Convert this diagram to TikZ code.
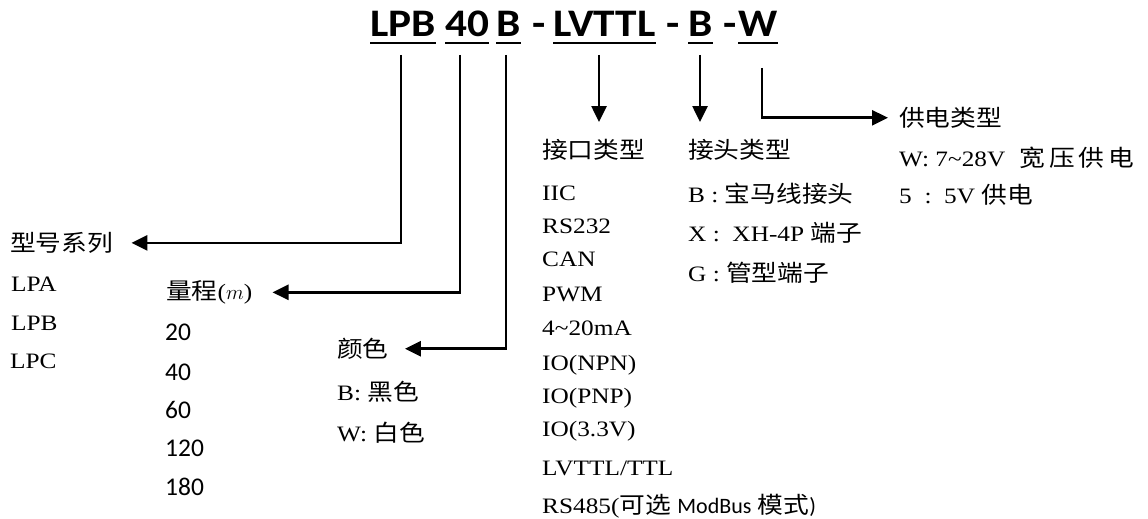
\documentclass[tikz,border=0pt]{standalone}
\usepackage{fontspec}
\setmainfont[FakeStretch=1.15]{Liberation Serif}
\newfontfamily\cjk[Scale=1.045,FakeStretch=1.12]{Noto Sans CJK SC}
\newfontfamily\carl{Carlito}
\newfontfamily\carlt[FakeStretch=1.11]{Carlito}
\usetikzlibrary{arrows.meta,calc}
\newcommand\zh[1]{{\cjk #1}}
\newcommand\cbf[1]{{\carl #1}}
\begin{document}
\begin{tikzpicture}[x=1pt,y=-1pt,
  lbl/.style={anchor=base west,inner sep=0pt,font=\fontsize{22}{26}\selectfont},
  num/.style={anchor=base west,inner sep=0pt,font=\carl\fontsize{25.5}{30}\selectfont},
  ttl/.style={anchor=base west,inner sep=0pt,font=\carlt\bfseries\fontsize{39}{46}\selectfont},
  conn/.style={line width=2.6pt,-{Triangle[length=16pt,width=15pt]}},
  uln/.style={line width=2.5pt}]
\useasboundingbox (0,0) rectangle (1148,519);
% title
\node[ttl] (w1) at (370,37) {LPB};
\node[ttl] (w2) at (445,37) {40};
\node[ttl] (w3) at (496,37) {B};
\node[ttl] (d1) at (532,37) {-};
\node[ttl] (w4) at (553,37) {LVTTL};
\node[ttl] (d2) at (666,37) {-};
\node[ttl] (w5) at (688,37) {B};
\node[ttl] (d3) at (723,37) {-};
\node[ttl] (w6) at (738,37) {W};
\foreach \w in {w1,w2,w3,w4,w5,w6}{
  \draw[uln] ($(\w.base west)+(0,6)$) -- ($(\w.base east)+(0,6)$);
}
% connector starts
\coordinate (s1) at (401,55);
\coordinate (s2) at (460,55);
\coordinate (s3) at (506,55);
\coordinate (s4) at (599,55);
\coordinate (s5) at (700,55);
\coordinate (s6) at (762,68);
% series
\node[lbl] (xh) at (10,251.5) {\zh{型号系列}};
\node[lbl] (xa) at (11,291) {LPA};
\node[lbl] (xb) at (11,330) {LPB};
\node[lbl] (xc) at (10,368) {LPC};
% range
\node[lbl] (lc) at (166,299.5) {\zh{量程}($m$)};
\node[num] (r1) at (165,340) {20};
\node[num] (r2) at (165,380) {40};
\node[num] (r3) at (165,418) {60};
\node[num] (r4) at (165,456) {120};
\node[num] (r5) at (165,495) {180};
% colour
\node[lbl] (ys) at (337,357.5) {\zh{颜色}};
\node[lbl] (yb) at (337,400) {B: \zh{黑色}};
\node[lbl] (yw) at (337,441) {W: \zh{白色}};
% interface
\node[lbl] (jk) at (542,158.5) {\zh{接口类型}};
\node[lbl] (i1) at (542,200) {IIC};
\node[lbl] (i2) at (542,233) {RS232};
\node[lbl] (i3) at (542,266) {CAN};
\node[lbl] (i4) at (542,301) {PWM};
\node[lbl] (i5) at (542,335) {4\textasciitilde20mA};
\node[lbl] (i6) at (542,370) {IO(NPN)};
\node[lbl] (i7) at (542,403) {IO(PNP)};
\node[lbl] (i8) at (542,436) {IO(3.3V)};
\node[lbl] (i9) at (542,475) {LVTTL/TTL};
\node[lbl] (i10) at (542,513) {RS485(\zh{可选} \cbf{ModBus} \zh{模式}\cbf{)}};
% connector type
\node[lbl] (jt) at (688,158.5) {\zh{接头类型}};
\node[lbl] (c1) at (688,202) {B : \zh{宝马线接头}};
\node[lbl] (c2) at (688,241) {X :\ \ XH-4P \zh{端子}};
\node[lbl] (c3) at (688,281) {G : \zh{管型端子}};
% power
\node[lbl] (gd) at (899,126.5) {\zh{供电类型}};
\node[lbl] (p1) at (899,166) {W: 7\textasciitilde28V\hspace{14pt}\zh{宽\hspace{4pt}压\hspace{4pt}供\hspace{4pt}电}};
\node[lbl] (p2) at (899,203) {5\ \ :\ \ 5V \zh{供电}};
% connectors
\draw[conn] (s1) |- ($(xh.east)+(18,0)$);
\draw[conn] (s2) |- ($(lc.east)+(20,0)$);
\draw[conn] (s3) |- ($(ys.east)+(16,0)$);
\draw[conn] (s4) -- (s4 |- 0,122);
\draw[conn] (s5) -- (s5 |- 0,122);
\draw[conn] (s6) |- ($(gd.west)+(-11,0)$);
\end{tikzpicture}
\end{document}
